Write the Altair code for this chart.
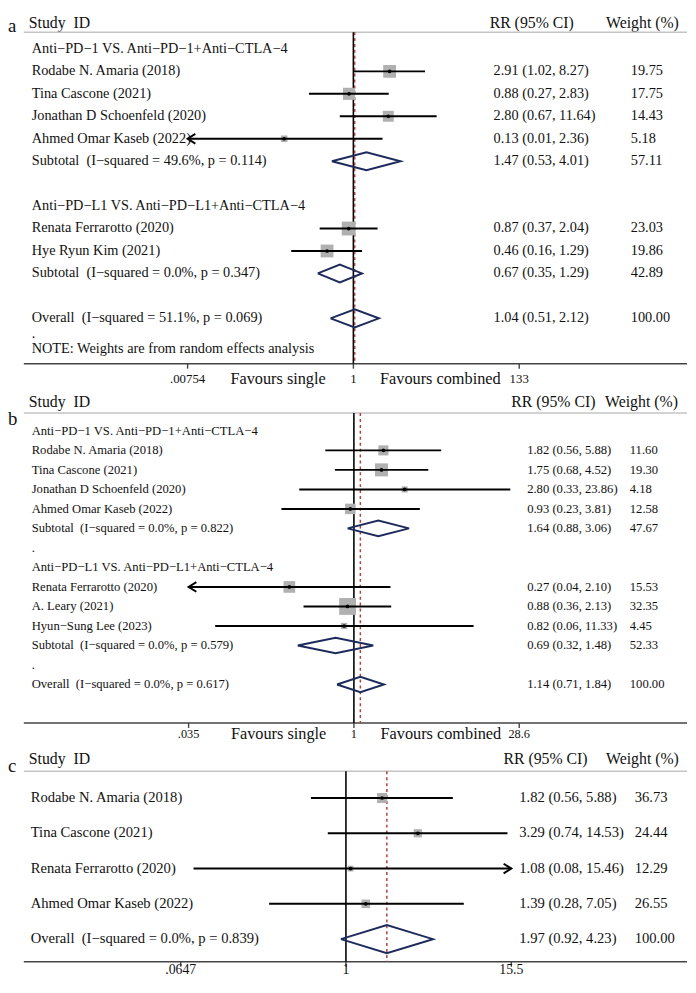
import altair as alt
import pandas as pd

FONT = "Liberation Serif, Times New Roman, serif"
M = "\u2212"          # typographic minus used by Stata
SP2 = "\u00a0 "       # double space

# ------------------------------------------------------------------ data
# Panel a
a_labels = [f"Anti{M}PD{M}1 VS. Anti{M}PD{M}1+Anti{M}CTLA{M}4",
            "Rodabe N. Amaria (2018)", "Tina Cascone (2021)",
            "Jonathan D Schoenfeld (2020)", "Ahmed Omar Kaseb (2022)",
            f"Subtotal{SP2}(I{M}squared = 49.6%, p = 0.114)", "",
            f"Anti{M}PD{M}L1 VS. Anti{M}PD{M}L1+Anti{M}CTLA{M}4",
            "Renata Ferrarotto (2020)", "Hye Ryun Kim (2021)",
            f"Subtotal{SP2}(I{M}squared = 0.0%, p = 0.347)", "",
            f"Overall{SP2}(I{M}squared = 51.1%, p = 0.069)"]
a_kind = ["group", "study", "study", "study", "study", "pooled", "blank",
          "group", "study", "study", "pooled", "blank", "overall"]
a_est = [None, 2.91, 0.88, 2.80, 0.13, 1.47, None, None, 0.87, 0.46, 0.67, None, 1.04]
a_lo = [None, 1.02, 0.27, 0.67, 0.01, 0.53, None, None, 0.37, 0.16, 0.35, None, 0.51]
a_hi = [None, 8.27, 2.83, 11.64, 2.36, 4.01, None, None, 2.04, 1.29, 1.29, None, 2.12]
a_wt = [None, 19.75, 17.75, 14.43, 5.18, 57.11, None, None, 23.03, 19.86, 42.89, None, 100.00]
a_arrow = ["", "", "", "", "left", "", "", "", "", "", "", "", ""]
a_ticks = [0.00754, 1, 133]
a_tick_labels = [".00754", "1", "133"]
a_footer = [".", "NOTE: Weights are from random effects analysis"]

# Panel b
b_labels = [f"Anti{M}PD{M}1 VS. Anti{M}PD{M}1+Anti{M}CTLA{M}4",
            "Rodabe N. Amaria (2018)", "Tina Cascone (2021)",
            "Jonathan D Schoenfeld (2020)", "Ahmed Omar Kaseb (2022)",
            f"Subtotal{SP2}(I{M}squared = 0.0%, p = 0.822)", ".",
            f"Anti{M}PD{M}L1 VS. Anti{M}PD{M}L1+Anti{M}CTLA{M}4",
            "Renata Ferrarotto (2020)", "A. Leary (2021)", f"Hyun{M}Sung Lee (2023)",
            f"Subtotal{SP2}(I{M}squared = 0.0%, p = 0.579)", ".",
            f"Overall{SP2}(I{M}squared = 0.0%, p = 0.617)"]
b_kind = ["group", "study", "study", "study", "study", "pooled", "blank",
          "group", "study", "study", "study", "pooled", "blank", "overall"]
b_est = [None, 1.82, 1.75, 2.80, 0.93, 1.64, None, None, 0.27, 0.88, 0.82, 0.69, None, 1.14]
b_lo = [None, 0.56, 0.68, 0.33, 0.23, 0.88, None, None, 0.04, 0.36, 0.06, 0.32, None, 0.71]
b_hi = [None, 5.88, 4.52, 23.86, 3.81, 3.06, None, None, 2.10, 2.13, 11.33, 1.48, None, 1.84]
b_wt = [None, 11.60, 19.30, 4.18, 12.58, 47.67, None, None, 15.53, 32.35, 4.45, 52.33, None, 100.00]
b_arrow = ["", "", "", "", "", "", "", "", "left", "", "", "", "", ""]
b_ticks = [0.035, 1, 28.6]
b_tick_labels = [".035", "1", "28.6"]

# Panel c
c_labels = ["Rodabe N. Amaria (2018)", "Tina Cascone (2021)",
            "Renata Ferrarotto (2020)", "Ahmed Omar Kaseb (2022)",
            f"Overall{SP2}(I{M}squared = 0.0%, p = 0.839)"]
c_kind = ["study", "study", "study", "study", "overall"]
c_est = [1.82, 3.29, 1.08, 1.39, 1.97]
c_lo = [0.56, 0.74, 0.08, 0.28, 0.92]
c_hi = [5.88, 14.53, 15.46, 7.05, 4.23]
c_wt = [36.73, 24.44, 12.29, 26.55, 100.00]
c_arrow = ["", "", "right", "", ""]
c_ticks = [0.0647, 1, 15.5]
c_tick_labels = [".0647", "1", "15.5"]

favours_labels = ["Favours single", "Favours combined"]
header_labels = ["Study\u00a0 ID", "RR (95% CI)", "Weight (%)"]

# ------------------------------------------------------------------ styles
W = 672
TXT = "#111111"
SQ = "#b0b0b0"
DIA = "#1d2b5c"
RED = "#b0403a"
ARROW_L = "M1.2,-0.75L0,0L1.2,0.75"
ARROW_R = "M-1.2,-0.75L0,0L-1.2,0.75"


def one_text(t, x, y, size, align="left"):
    return alt.Chart(pd.DataFrame({"t": [t]})).mark_text(
        align=align, baseline="middle", font=FONT, fontSize=size, color=TXT).encode(
        x=alt.value(x), y=alt.value(y), text="t:N")


def hrule(y, color, width):
    return alt.Chart(pd.DataFrame({"d": [0]})).mark_rule(
        color=color, strokeWidth=width).encode(
        x=alt.value(0), x2=alt.value(W), y=alt.value(y))


def panel(letter, labels, kind, est, lo, hi, wt, arrow, ticks, tick_labels, L,
          favours=False, footer=None):
    n = len(labels)
    df = pd.DataFrame({"row": list(range(n)), "label": labels, "kind": kind,
                       "est": est, "lo": lo, "hi": hi, "wt": wt, "arrow": arrow})
    xmin, xmax = ticks[0], ticks[-1]
    xs = alt.Scale(type="log", domain=[xmin, xmax], range=L["xrange"])
    ys = alt.Scale(domain=[0, n - 1], range=L["yrange"])
    Y = alt.Y("row:Q", scale=ys, axis=None)

    df["rr"] = [f"{e:.2f} ({l:.2f}, {h:.2f})" if pd.notna(e) else ""
                for e, l, h in zip(df.est, df.lo, df.hi)]
    df["wtxt"] = [f"{w:.2f}" if pd.notna(w) else "" for w in df.wt]
    df["lo_d"] = [xmin if a == "left" else v for a, v in zip(df.arrow, df.lo)]
    df["hi_d"] = [xmax if a == "right" else v for a, v in zip(df.arrow, df.hi)]
    df["sz"] = df.wt * L["sq"]   # square area proportional to weight

    studies = df[df.kind == "study"]
    pooled = df[df.kind.isin(["pooled", "overall"])]
    overall = df[df.kind == "overall"]
    arrows = df[df.arrow != ""].copy()
    arrows["ax"] = [xmin if a == "left" else xmax for a in arrows.arrow]

    # diamond outlines
    dia_rows = []
    h = 0.4
    for _, r in pooled.iterrows():
        pts = [(r.lo, r.row), (r.est, r.row - h), (r.hi, r.row),
               (r.est, r.row + h), (r.lo, r.row)]
        for k, (xv, yv) in enumerate(pts):
            dia_rows.append({"id": int(r.row), "o": k, "x": xv, "row": yv})
    dia = pd.DataFrame(dia_rows)

    layers = []
    # header
    layers.append(one_text(letter, -16, L["letter_y"], 19))
    layers.append(one_text(header_labels[0], L["hx"][0], L["head_y"], 16))
    layers.append(one_text(header_labels[1], L["hx"][1], L["head_y"], 16))
    layers.append(one_text(header_labels[2], L["hx"][2], L["head_y"], 16))
    layers.append(hrule(L["rule_y"], "#c4c4c4", 1.5))
    layers.append(hrule(L["axis_y"], "#444444", 1.6))

    # null line and overall dashed line
    layers.append(alt.Chart(pd.DataFrame({"v": [1.0]})).mark_rule(
        color="black", strokeWidth=1.6).encode(
        x=alt.X("v:Q", scale=xs, axis=None),
        y=alt.value(L["rule_y"]), y2=alt.value(L["axis_y"])))
    layers.append(alt.Chart(overall).mark_rule(
        color=RED, strokeWidth=1.5, strokeDash=[3, 3]).encode(
        x=alt.X("est:Q", scale=xs, axis=None),
        y=alt.value(L["rule_y"]), y2=alt.value(L["axis_y"])))

    # squares, CI lines, dots, arrows
    layers.append(alt.Chart(studies).mark_square(color=SQ, opacity=1).encode(
        x=alt.X("est:Q", scale=xs, axis=None), y=Y,
        size=alt.Size("sz:Q", scale=None, legend=None)))
    layers.append(alt.Chart(studies).mark_rule(color="black", strokeWidth=2).encode(
        x=alt.X("lo_d:Q", scale=xs, axis=None), x2="hi_d:Q", y=Y))
    layers.append(alt.Chart(studies).mark_circle(color="black", size=14, opacity=1).encode(
        x=alt.X("est:Q", scale=xs, axis=None), y=Y))
    if len(arrows):
        layers.append(alt.Chart(arrows).mark_point(
            filled=False, color="black", strokeWidth=2, size=170, opacity=1).encode(
            x=alt.X("ax:Q", scale=xs, axis=None), y=Y,
            shape=alt.Shape("arrow:N", scale=alt.Scale(domain=["left", "right"],
                                                       range=[ARROW_L, ARROW_R]),
                            legend=None)))
    # diamonds
    layers.append(alt.Chart(dia).mark_line(color=DIA, strokeWidth=2).encode(
        x=alt.X("x:Q", scale=xs, axis=None), y=Y, detail="id:N", order="o:Q"))

    # text columns
    layers.append(alt.Chart(df[df.label != ""]).mark_text(
        align="left", baseline="middle", font=FONT, fontSize=L["fs"], color=TXT).encode(
        x=alt.value(L["lab_x"]), y=Y, text="label:N"))
    layers.append(alt.Chart(df[df.rr != ""]).mark_text(
        align="left", baseline="middle", font=FONT, fontSize=L["fs"], color=TXT).encode(
        x=alt.value(L["rr_x"]), y=Y, text="rr:N"))
    layers.append(alt.Chart(df[df.wtxt != ""]).mark_text(
        align="left", baseline="middle", font=FONT, fontSize=L["fs"], color=TXT).encode(
        x=alt.value(L["wt_x"]), y=Y, text="wtxt:N"))

    # axis ticks and labels
    tdf = pd.DataFrame({"v": ticks, "t": tick_labels})
    layers.append(alt.Chart(tdf).mark_rule(color="#444444", strokeWidth=1.4).encode(
        x=alt.X("v:Q", scale=xs, axis=None),
        y=alt.value(L["axis_y"]), y2=alt.value(L["axis_y"] + 5)))
    layers.append(alt.Chart(tdf).mark_text(
        align="center", baseline="middle", font=FONT, fontSize=L["tfs"], color=TXT).encode(
        x=alt.X("v:Q", scale=xs, axis=None), y=alt.value(L["tick_y"]), text="t:N"))

    if favours:
        fdf = pd.DataFrame({"v": [1.0], "t": [favours_labels[0]]})
        fdf2 = pd.DataFrame({"v": [1.0], "t": [favours_labels[1]]})
        layers.append(alt.Chart(fdf).mark_text(
            align="right", baseline="middle", font=FONT, fontSize=16.5, color=TXT, dx=-28).encode(
            x=alt.X("v:Q", scale=xs, axis=None), y=alt.value(L["tick_y"]), text="t:N"))
        layers.append(alt.Chart(fdf2).mark_text(
            align="left", baseline="middle", font=FONT, fontSize=16.5, color=TXT, dx=27).encode(
            x=alt.X("v:Q", scale=xs, axis=None), y=alt.value(L["tick_y"]), text="t:N"))
    if footer:
        layers.append(one_text(footer[0], L["lab_x"], L["foot_y"][0], L["fs"]))
        layers.append(one_text(footer[1], L["lab_x"], L["foot_y"][1], L["fs"]))

    return alt.layer(*layers).properties(width=W, height=L["height"])


LA = dict(xrange=[166, 502], yrange=[35, 308], height=380, letter_y=12, head_y=9,
          rule_y=18, axis_y=354, tick_y=370, hx=[5, 472, 590], lab_x=8, rr_x=476,
          wt_x=615, fs=14.5, tfs=13, sq=8.5, foot_y=[323.5, 339])
LB = dict(xrange=[167, 502], yrange=[42, 299], height=360, letter_y=30, head_y=12.5,
          rule_y=24, axis_y=338, tick_y=349, hx=[5, 494, 589], lab_x=8, rr_x=510,
          wt_x=614, fs=12.8, tfs=12.5, sq=9)
LC = dict(xrange=[159, 494], yrange=[54, 197], height=236, letter_y=22, head_y=15,
          rule_y=27, axis_y=220, tick_y=228.5, hx=[5, 486, 590], lab_x=7, rr_x=502,
          wt_x=619, fs=14.8, tfs=14, sq=2.8)

pa = panel("a", a_labels, a_kind, a_est, a_lo, a_hi, a_wt, a_arrow, a_ticks, a_tick_labels,
           LA, favours=True, footer=a_footer)
pb = panel("b", b_labels, b_kind, b_est, b_lo, b_hi, b_wt, b_arrow, b_ticks, b_tick_labels,
           LB, favours=True)
pc = panel("c", c_labels, c_kind, c_est, c_lo, c_hi, c_wt, c_arrow, c_ticks, c_tick_labels, LC)

chart = alt.vconcat(pa, pb, pc, spacing=0).properties(
    padding=0, background="white").configure_view(stroke=None)

chart.save("out.html", embed_options={"renderer": "svg", "actions": False})
